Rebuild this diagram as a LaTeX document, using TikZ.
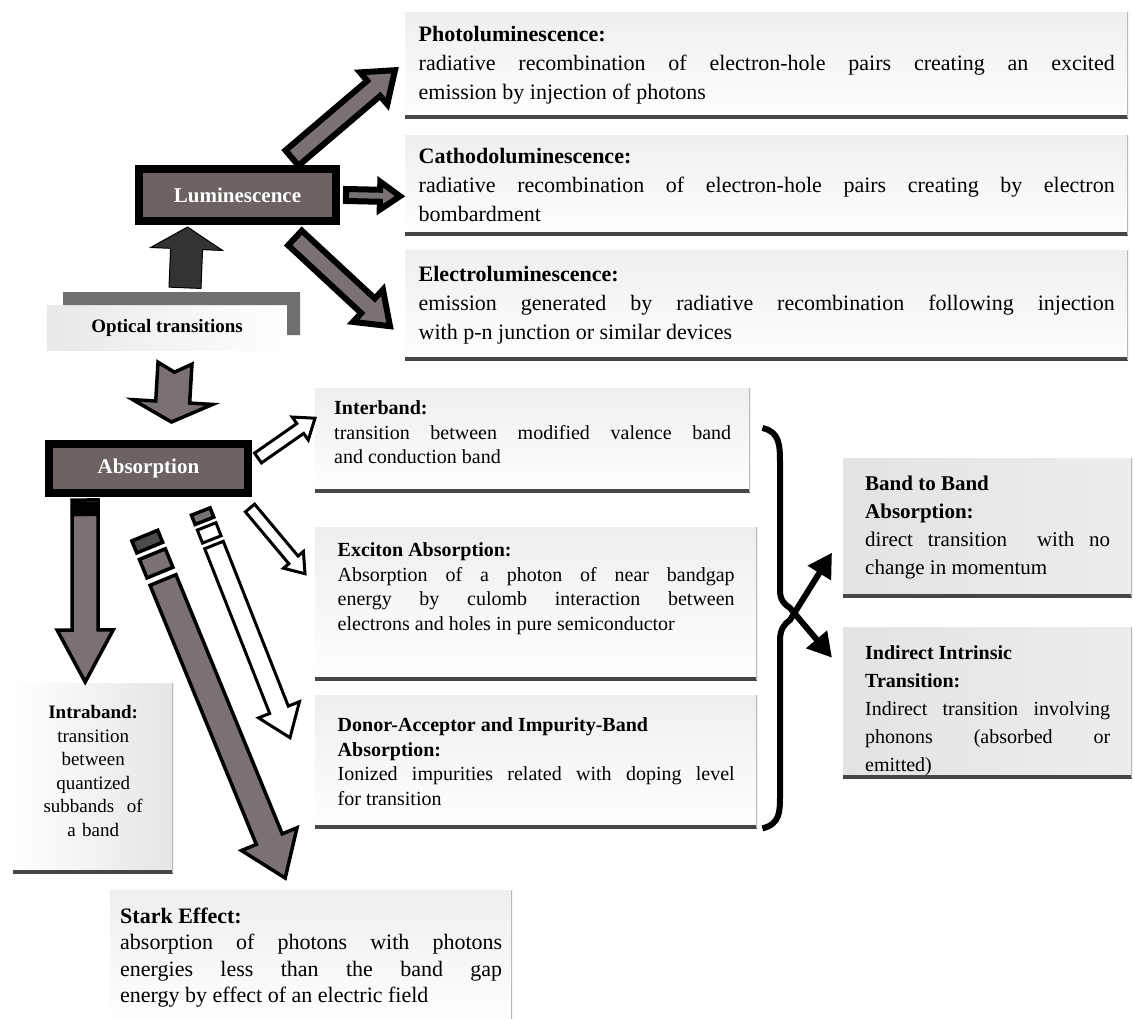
\documentclass[tikz,border=0pt]{standalone}
\usepackage{fontspec}
\setmainfont{Liberation Serif}
\usetikzlibrary{calc,arrows.meta}
\tolerance=10000

\definecolor{boxred}{RGB}{108,98,98}
\definecolor{arrgray}{RGB}{122,114,114}
\definecolor{bargray}{RGB}{112,110,110}

% fat block arrow: [style]{from}{to}{half shaft}{half head}{head length}{notch}
\newcommand{\fatarrow}[7][]{%
  \coordinate (fa-a) at (#2);
  \coordinate (fa-b) at (#3);
  \coordinate (fa-h) at ($(fa-b)!#6!(fa-a)$);
  \filldraw[#1] ($(fa-a)!#4!90:(fa-b)$) -- ($(fa-h)!#4!90:(fa-b)$) -- ($(fa-h)!#5!90:(fa-b)$)
    -- (fa-b) -- ($(fa-h)!#5!-90:(fa-b)$) -- ($(fa-h)!#4!-90:(fa-b)$) -- ($(fa-a)!#4!-90:(fa-b)$)
    -- ($(fa-a)!#7!(fa-b)$) -- cycle;
}
% stripe behind the last fat arrow: [style]{from}{to}{half width}
\newcommand{\tailseg}[4][]{%
  \coordinate (ts-a) at ($(fa-a)!-#2!(fa-b)$);
  \coordinate (ts-b) at ($(fa-a)!-#3!(fa-b)$);
  \filldraw[#1] ($(ts-a)!#4!90:(fa-b)$) -- ($(ts-b)!#4!90:(fa-b)$) -- ($(ts-b)!#4!-90:(fa-b)$) -- ($(ts-a)!#4!-90:(fa-b)$) -- cycle;
}
\newcommand{\bpad}[1]{\par\vspace{#1}\hrule height 0pt}
\newcommand{\tpad}[1]{\hrule height 0pt\vspace{#1}}

\tikzset{
  infobox/.style={anchor=north west, inner xsep=0pt, inner ysep=0pt, align=justify,
    top color=gray!13, bottom color=white,
    path picture={
      \draw[gray!55!black, line width=6pt] (path picture bounding box.south west) -- (path picture bounding box.south east);
      \draw[gray!55, line width=2pt] (path picture bounding box.north east) -- (path picture bounding box.south east);}},
  topfont/.style={font=\fontsize{22}{29}\selectfont},
  midfont/.style={font=\fontsize{20}{24.5}\selectfont},
  bandfont/.style={font=\fontsize{21}{28}\selectfont},
  catbox/.style={draw=black, line width=8pt, fill=boxred, text=white, inner sep=0pt,
    font=\fontsize{21}{24}\selectfont\bfseries},
  lumarrow/.style={fill=arrgray, draw=black, line width=6pt, line join=miter},
  hollowarrow/.style={fill=white, draw=black, line width=3pt, line join=miter},
  greyarrow/.style={fill=arrgray, draw=black, line width=3.5pt, line join=miter},
  bracearrow/.style={line width=6pt, -{Triangle[length=24pt,width=26pt]}},
}

\begin{document}
\begin{tikzpicture}[x=1pt,y=-1pt]
\useasboundingbox[fill=white] (0,0) rectangle (1133,1019);

% luminescence side
\node[infobox, topfont, minimum width=723pt, minimum height=106pt, text width=696pt] (photo) at (405,12)
  {\textbf{Photoluminescence:}\par radiative recombination of electron-hole pairs creating an excited\linebreak emission by injection of photons};
\node[infobox, topfont, minimum width=723pt, minimum height=100pt, text width=696pt] (cath) at (405,135)
  {\textbf{Cathodoluminescence:}\par radiative recombination of electron-hole pairs creating by electron\linebreak bombardment};
\node[infobox, topfont, minimum width=723pt, minimum height=110pt, text width=696pt] (elec) at (405,250)
  {\textbf{Electroluminescence:}\par emission generated by radiative recombination following injection\linebreak with p-n junction or similar devices};

% absorption side
\node[infobox, midfont, minimum width=435pt, minimum height=104pt, text width=397pt] (inter) at (315,388)
  {\textbf{Interband:}\par transition between modified valence band\linebreak and conduction band\bpad{16pt}};
\node[infobox, midfont, minimum width=442pt, minimum height=153pt, text width=397pt] (exc) at (315,527)
  {\textbf{Exciton Absorption:}\par Absorption of a photon of near bandgap\linebreak energy by culomb interaction between\linebreak electrons and holes in pure semiconductor\bpad{30pt}};
\node[infobox, midfont, minimum width=442pt, minimum height=133pt, text width=397pt] (donor) at (315,695)
  {\textbf{Donor-Acceptor and Impurity-Band}\par\textbf{Absorption:}\par Ionized impurities related with doping level\linebreak for transition};
\node[infobox, bandfont, minimum width=289pt, minimum height=139pt, text width=245pt,
  left color=gray!22, middle color=white, right color=gray!14] (band) at (843,458)
  {\textbf{Band to Band}\par\textbf{Absorption:}\par direct transition~~with no\linebreak change in momentum};
\node[infobox, font=\fontsize{20}{28}\selectfont, minimum width=289pt, minimum height=151pt, text width=245pt,
  left color=gray!22, middle color=white, right color=gray!14] (indir) at (843,627)
  {\tpad{16pt}\textbf{Indirect Intrinsic}\par\textbf{Transition:}\par Indirect transition involving\linebreak phonons (absorbed or\linebreak emitted)};
\node[infobox, align=center, font=\fontsize{19}{23.5}\selectfont, minimum width=160pt, minimum height=190pt, text width=140pt,
  left color=white, right color=gray!20] (intra) at (13,683)
  {\textbf{Intraband:}\\ transition\\ between\\ quantized\\ subbands~ of\\ a band\bpad{14pt}};
\node[infobox, font=\fontsize{22}{26.5}\selectfont, minimum width=402pt, minimum height=135pt, text width=382pt] (stark) at (110,890)
  {\textbf{Stark Effect:}\par absorption of photons with photons\linebreak energies less than the band gap\linebreak energy by effect of an electric field};

% category boxes
\node[left color=gray!18, middle color=white, right color=white, minimum width=240pt, minimum height=45pt,
  font=\fontsize{19}{22}\selectfont\bfseries] (opt) at (167,327.5) {\raisebox{-4pt}{Optical transitions}};
\fill[bargray] (63,292) -- (300,292) -- (300,335) -- (287,335) -- (287,305) -- (63,305) -- cycle;
\node[catbox, minimum width=197pt, minimum height=52pt] (lum) at (237.5,195) {Luminescence};
\node[catbox, minimum width=199pt, minimum height=49pt] (abs) at (148.5,468.5) {Absorption};

% block arrows
\fatarrow[fill=black!80, draw=black, line width=1pt]{[xshift=18pt,yshift=17pt]opt.north}{[xshift=-50pt,yshift=-2pt]lum.south}{16pt}{36pt}{22pt}{0pt}
\fatarrow[greyarrow]{[xshift=8pt,yshift=-13pt]opt.south}{[xshift=23pt,yshift=18pt]abs.north}{17pt}{40pt}{20pt}{9pt}
\fatarrow[lumarrow]{[xshift=-48pt,yshift=7pt]lum.north east}{[xshift=-10pt,yshift=-5pt]photo.west}{10pt}{21pt}{28pt}{0pt}
\fatarrow[lumarrow]{[xshift=6pt]lum.east}{[xshift=-5pt,yshift=-11pt]cath.west}{6pt}{14pt}{20pt}{0pt}
\fatarrow[lumarrow]{[xshift=-45pt,yshift=-13pt]lum.south east}{[xshift=-15pt,yshift=-21pt]elec.west}{10pt}{22pt}{30pt}{0pt}

\fatarrow[hollowarrow]{[xshift=6pt,yshift=-18pt]abs.north east}{[yshift=22pt]inter.west}{6pt}{14pt}{18pt}{0pt}
\fatarrow[hollowarrow]{[xshift=-2pt,yshift=-11pt]abs.south east}{[xshift=-10pt,yshift=30pt]exc.west}{6pt}{13pt}{18pt}{0pt}
\fatarrow[hollowarrow]{[xshift=-38pt,yshift=-48pt]abs.south east}{[xshift=-25pt,yshift=24pt]donor.west}{10pt}{22pt}{30pt}{0pt}
\tailseg[hollowarrow]{6pt}{20pt}{10pt}
\tailseg[greyarrow]{26pt}{36pt}{10pt}
\fatarrow[greyarrow]{[xshift=14.5pt,yshift=-83pt]abs.south}{[xshift=-26pt,yshift=12pt]stark.north}{14pt}{30pt}{42pt}{0pt}
\tailseg[greyarrow]{8pt}{28pt}{14pt}
\tailseg[greyarrow, fill=black!70]{35pt}{48pt}{14pt}
\fatarrow[greyarrow]{[xshift=40pt,yshift=-3pt]abs.south west}{[xshift=-8pt,yshift=1pt]intra.north}{13pt}{28pt}{52pt}{0pt}
\tailseg[fill=black]{-16pt}{-2pt}{14pt}

% brace with crossed arrows
\draw[bracearrow] ([xshift=12pt,yshift=-40pt]inter.north east) .. controls (780,432) and (780,445) .. (780,465)
  -- (780,590) .. controls (780,600) and (784,604) .. (790,608) -- ([xshift=-11pt,yshift=45pt]indir.west);
\draw[bracearrow] ([xshift=5pt]donor.south east) .. controls (780,824) and (780,812) .. (780,795)
  -- (780,640) .. controls (780,630) and (784,624) .. (790,620) -- ([xshift=-11pt,yshift=-25pt]band.west);
\end{tikzpicture}
\end{document}
